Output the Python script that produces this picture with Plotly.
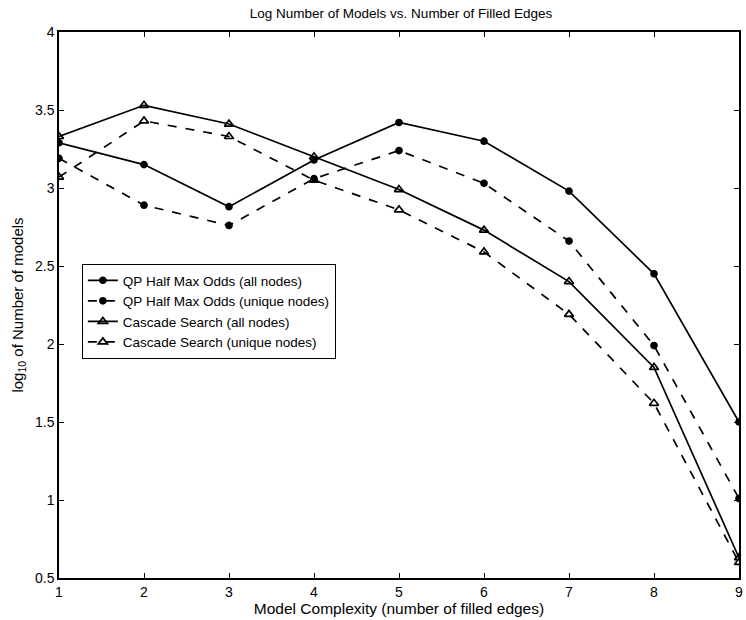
import plotly.graph_objects as go

complexity = [1, 2, 3, 4, 5, 6, 7, 8, 9]
qp_all = [3.29, 3.15, 2.88, 3.18, 3.42, 3.30, 2.98, 2.45, 1.50]
qp_unique = [3.19, 2.89, 2.76, 3.06, 3.24, 3.03, 2.66, 1.99, 1.01]
cascade_all = [3.33, 3.53, 3.41, 3.20, 2.99, 2.73, 2.40, 1.85, 0.63]
cascade_unique = [3.07, 3.43, 3.33, 3.05, 2.86, 2.59, 2.19, 1.62, 0.60]

names = ["QP Half Max Odds (all nodes)", "QP Half Max Odds (unique nodes)",
         "Cascade Search (all nodes)", "Cascade Search (unique nodes)"]
series = [qp_all, qp_unique, cascade_all, cascade_unique]
dashes = ["solid", "dash", "solid", "dash"]
symbols = ["circle", "circle", "triangle-up-open", "triangle-up-open"]
sizes = [6, 6, 8, 8]

fig = go.Figure()
for nm, ys, d, s, sz in zip(names, series, dashes, symbols, sizes):
    fig.add_trace(go.Scatter(
        x=complexity, y=ys, name=nm, mode="lines+markers",
        line=dict(color="black", width=1.7, dash=d),
        marker=dict(symbol=s, size=sz, color="black", line=dict(color="black", width=1.7)),
    ))

font = "Liberation Sans, Arial, sans-serif"
fig.update_layout(
    width=746, height=620,
    margin=dict(l=59, r=3, t=32, b=42),
    paper_bgcolor="white", plot_bgcolor="white",
    font=dict(family=font, size=14, color="black"),
    title=dict(text="Log Number of Models vs. Number of Filled Edges",
               x=(59 + 684 / 2) / 746, xanchor="center", y=1 - 13 / 620, yanchor="middle",
               font=dict(size=13.5, family=font, color="black")),
    showlegend=True,
    legend=dict(x=(82 - 59) / 684, y=(578 - 264) / 546, xanchor="left", yanchor="top",
                bordercolor="black", borderwidth=1, bgcolor="white",
                font=dict(size=13.5, family=font, color="black"),
                tracegroupgap=0, itemwidth=30),
)
fig.update_xaxes(range=[1, 9], tickvals=complexity, ticktext=[str(v) for v in complexity],
                 showline=True, linecolor="black", linewidth=1.5, mirror="ticks",
                 ticks="inside", ticklen=5, tickcolor="black", showgrid=False, zeroline=False,
                 tickfont=dict(size=14),
                 title=dict(text="Model Complexity (number of filled edges)", standoff=2,
                            font=dict(size=15.5, family=font)))
fig.update_yaxes(range=[0.5, 4], tickvals=[0.5, 1, 1.5, 2, 2.5, 3, 3.5, 4],
                 ticktext=["0.5", "1", "1.5", "2", "2.5", "3", "3.5", "4"],
                 showline=True, linecolor="black", linewidth=1.5, mirror="ticks",
                 ticks="inside", ticklen=5, tickcolor="black", showgrid=False, zeroline=False,
                 tickfont=dict(size=14),
                 title=dict(text="log<sub>10</sub> of Number of models", standoff=8,
                            font=dict(size=15, family=font)))

fig.write_html("out.html")
